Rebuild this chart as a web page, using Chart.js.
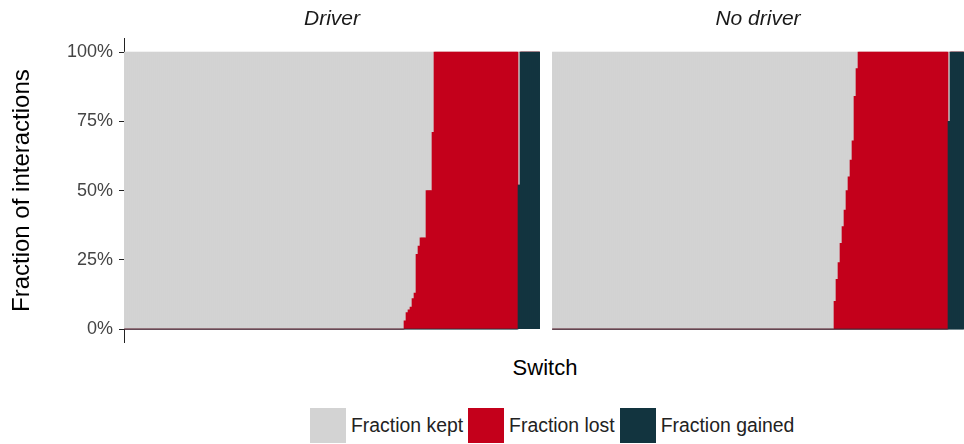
<!DOCTYPE html>
<html>
<head>
<meta charset="utf-8">
<title>Fraction of interactions per switch</title>
<script src="https://cdn.jsdelivr.net/npm/chart.js@4.4.1/dist/chart.umd.min.js"></script>
<style>
  html, body { margin: 0; padding: 0; background: #fff; overflow: hidden; }
  body { width: 964px; height: 444px; position: relative; font-family: 'Liberation Sans', Arial, sans-serif; }
  .panel { position: absolute; top: 0; height: 343px; }
  #driver-wrap { left: 0; width: 545px; }
  #nodriver-wrap { left: 548px; width: 416px; }
  #x-title { position: absolute; left: 0; width: 1090px; top: 355px; line-height: 26px; text-align: center; font-size: 22px; color: #000; }
  #legend { position: absolute; left: 310px; top: 408px; display: flex; align-items: center; font-size: 19.4px; color: #222; }
  .key { display: flex; align-items: center; margin-right: 5px; }
  .swatch { width: 36px; height: 35px; margin-right: 5px; }
</style>
</head>
<body>
<div class="panel" id="driver-wrap"><canvas id="driverChart"></canvas></div>
<div class="panel" id="nodriver-wrap"><canvas id="noDriverChart"></canvas></div>
<div id="x-title">Switch</div>
<div id="legend"></div>

<script>
// One value per switch, switches ordered by how much of their interactions were kept.
const driverKept = [
  1,1,1,1,1,1,1,1,1,1,1,1,1,1,1,1,1,1,1,1,
  1,1,1,1,1,1,1,1,1,1,1,1,1,1,1,1,1,1,1,1,
  1,1,1,1,1,1,1,1,1,1,1,1,1,1,1,1,1,1,1,1,
  1,1,1,1,1,1,1,1,1,1,1,1,1,1,1,1,1,1,1,1,
  1,1,1,1,1,1,1,1,1,1,1,1,1,1,1,1,1,1,1,1,
  1,1,1,1,1,1,1,1,1,1,1,1,1,1,1,1,1,1,1,1,
  1,1,1,1,1,1,1,1,1,1,1,1,1,1,1,1,1,1,1,1,
  0.97,0.94,0.93,0.92,0.89,0.87,0.73,0.7,0.67,0.67,0.67,0.5,0.5,0.5,0.29,
  0,0,0,0,0,0,0,0,0,0,0,0,0,0,0,0,0,0,0,0,
  0,0,0,0,0,0,0,0,0,0,0,0,0,0,0,0,0,0,0,0,
  0,0,
  0.48,
  0,0,0,0,0,0,0,0,0,0
];
const driverLost = [
  0,0,0,0,0,0,0,0,0,0,0,0,0,0,0,0,0,0,0,0,
  0,0,0,0,0,0,0,0,0,0,0,0,0,0,0,0,0,0,0,0,
  0,0,0,0,0,0,0,0,0,0,0,0,0,0,0,0,0,0,0,0,
  0,0,0,0,0,0,0,0,0,0,0,0,0,0,0,0,0,0,0,0,
  0,0,0,0,0,0,0,0,0,0,0,0,0,0,0,0,0,0,0,0,
  0,0,0,0,0,0,0,0,0,0,0,0,0,0,0,0,0,0,0,0,
  0,0,0,0,0,0,0,0,0,0,0,0,0,0,0,0,0,0,0,0,
  0.03,0.06,0.07,0.08,0.11,0.13,0.27,0.3,0.33,0.33,0.33,0.5,0.5,0.5,0.71,
  1,1,1,1,1,1,1,1,1,1,1,1,1,1,1,1,1,1,1,1,
  1,1,1,1,1,1,1,1,1,1,1,1,1,1,1,1,1,1,1,1,
  1,1,
  0,
  0,0,0,0,0,0,0,0,0,0
];
const driverGained = [
  0,0,0,0,0,0,0,0,0,0,0,0,0,0,0,0,0,0,0,0,
  0,0,0,0,0,0,0,0,0,0,0,0,0,0,0,0,0,0,0,0,
  0,0,0,0,0,0,0,0,0,0,0,0,0,0,0,0,0,0,0,0,
  0,0,0,0,0,0,0,0,0,0,0,0,0,0,0,0,0,0,0,0,
  0,0,0,0,0,0,0,0,0,0,0,0,0,0,0,0,0,0,0,0,
  0,0,0,0,0,0,0,0,0,0,0,0,0,0,0,0,0,0,0,0,
  0,0,0,0,0,0,0,0,0,0,0,0,0,0,0,0,0,0,0,0,
  0,0,0,0,0,0,0,0,0,0,0,0,0,0,0,
  0,0,0,0,0,0,0,0,0,0,0,0,0,0,0,0,0,0,0,0,
  0,0,0,0,0,0,0,0,0,0,0,0,0,0,0,0,0,0,0,0,
  0,0,
  0.52,
  1,1,1,1,1,1,1,1,1,1
];

const noDriverKept = [
  1,1,1,1,1,1,1,1,1,1,1,1,1,1,1,1,1,1,1,1,
  1,1,1,1,1,1,1,1,1,1,1,1,1,1,1,1,1,1,1,1,
  1,1,1,1,1,1,1,1,1,1,1,1,1,1,1,1,1,1,1,1,
  1,1,1,1,1,1,1,1,1,1,1,1,1,1,1,1,1,1,1,1,
  1,1,1,1,1,1,1,1,1,1,1,1,1,1,1,1,1,1,1,1,
  1,1,1,1,1,1,1,1,1,1,1,1,1,1,1,1,1,1,1,1,
  1,1,1,1,1,1,1,1,1,1,1,1,1,1,1,1,1,1,1,1,
  1,
  0.9,0.82,0.76,0.69,0.63,0.57,0.5,0.45,0.39,0.32,0.16,0.06,
  0,0,0,0,0,0,0,0,0,0,0,0,0,0,0,0,0,0,0,0,
  0,0,0,0,0,0,0,0,0,0,0,0,0,0,0,0,0,0,0,0,
  0,0,0,0,0,
  0.25,
  0,0,0,0,0,0,0
];
const noDriverLost = [
  0,0,0,0,0,0,0,0,0,0,0,0,0,0,0,0,0,0,0,0,
  0,0,0,0,0,0,0,0,0,0,0,0,0,0,0,0,0,0,0,0,
  0,0,0,0,0,0,0,0,0,0,0,0,0,0,0,0,0,0,0,0,
  0,0,0,0,0,0,0,0,0,0,0,0,0,0,0,0,0,0,0,0,
  0,0,0,0,0,0,0,0,0,0,0,0,0,0,0,0,0,0,0,0,
  0,0,0,0,0,0,0,0,0,0,0,0,0,0,0,0,0,0,0,0,
  0,0,0,0,0,0,0,0,0,0,0,0,0,0,0,0,0,0,0,0,
  0,
  0.1,0.18,0.24,0.31,0.37,0.43,0.5,0.55,0.61,0.68,0.84,0.94,
  1,1,1,1,1,1,1,1,1,1,1,1,1,1,1,1,1,1,1,1,
  1,1,1,1,1,1,1,1,1,1,1,1,1,1,1,1,1,1,1,1,
  1,1,1,1,1,
  0,
  0,0,0,0,0,0,0
];
const noDriverGained = [
  0,0,0,0,0,0,0,0,0,0,0,0,0,0,0,0,0,0,0,0,
  0,0,0,0,0,0,0,0,0,0,0,0,0,0,0,0,0,0,0,0,
  0,0,0,0,0,0,0,0,0,0,0,0,0,0,0,0,0,0,0,0,
  0,0,0,0,0,0,0,0,0,0,0,0,0,0,0,0,0,0,0,0,
  0,0,0,0,0,0,0,0,0,0,0,0,0,0,0,0,0,0,0,0,
  0,0,0,0,0,0,0,0,0,0,0,0,0,0,0,0,0,0,0,0,
  0,0,0,0,0,0,0,0,0,0,0,0,0,0,0,0,0,0,0,0,
  0,
  0,0,0,0,0,0,0,0,0,0,0,0,
  0,0,0,0,0,0,0,0,0,0,0,0,0,0,0,0,0,0,0,0,
  0,0,0,0,0,0,0,0,0,0,0,0,0,0,0,0,0,0,0,0,
  0,0,0,0,0,
  0.75,
  1,1,1,1,1,1,1
];

const yTicks = [0, 0.25, 0.5, 0.75, 1];

const KEPT_COLOR = '#d3d3d3';
const LOST_COLOR = '#c4001b';
const GAINED_COLOR = '#12343f';
const FONT = "'Liberation Sans', Arial, sans-serif";

function panelChart(canvasId, title, kept, lost, gained, withAxis) {
  const yScale = {
    stacked: true,
    display: withAxis,
    min: -0.05,
    max: 1.05,
    afterBuildTicks: (scale) => { scale.ticks = yTicks.map(v => ({ value: v })); },
    border: { display: true, color: '#222', width: 1 },
    grid: { drawOnChartArea: false, drawTicks: true, tickLength: 5, tickWidth: 1, color: '#222' },
    ticks: {
      padding: 6,
      color: '#444',
      font: { family: FONT, size: 18 },
      callback: (v) => Math.round(v * 100) + '%'
    },
    title: {
      display: true,
      text: 'Fraction of interactions',
      color: '#000',
      font: { family: FONT, size: 24, lineHeight: 1.2 },
      padding: { top: 8, bottom: 0 }
    }
  };
  if (withAxis) {
    // fixed axis width; ticks sit well inside the range so no label padding is needed
    yScale.afterFit = (scale) => {
      scale.width = 124;
      scale.paddingTop = 0;
      scale.paddingBottom = 0;
    };
  }

  return new Chart(document.getElementById(canvasId), {
    type: 'bar',
    data: {
      labels: kept.map((_, i) => i + 1),
      // stacked bottom-up: gained, lost, then kept on top
      datasets: [
        { label: 'Fraction gained', data: gained, backgroundColor: GAINED_COLOR },
        { label: 'Fraction lost', data: lost, backgroundColor: LOST_COLOR },
        { label: 'Fraction kept', data: kept, backgroundColor: KEPT_COLOR }
      ]
    },
    options: {
      responsive: true,
      maintainAspectRatio: false,
      animation: false,
      layout: { padding: withAxis ? { right: 5 } : { left: 4 } },
      datasets: { bar: { barPercentage: 1, categoryPercentage: 1, borderWidth: 0 } },
      plugins: {
        legend: { display: false },
        tooltip: { enabled: false },
        title: {
          display: true,
          text: title,
          fullSize: false,
          color: '#1a1a1a',
          font: { family: FONT, size: 21, style: 'italic', weight: 'normal', lineHeight: 1.2 },
          padding: { top: 7, bottom: 6 }
        }
      },
      scales: {
        x: { stacked: true, display: false },
        y: yScale
      }
    }
  });
}

const driverChart = panelChart('driverChart', 'Driver', driverKept, driverLost, driverGained, true);
panelChart('noDriverChart', 'No driver', noDriverKept, noDriverLost, noDriverGained, false);

// legend lists the series top-down: kept, lost, gained
const legendEl = document.getElementById('legend');
driverChart.data.datasets.slice().reverse().forEach(ds => {
  const key = document.createElement('div');
  key.className = 'key';
  const sw = document.createElement('div');
  sw.className = 'swatch';
  sw.style.background = ds.backgroundColor;
  const label = document.createElement('span');
  label.textContent = ds.label;
  key.appendChild(sw);
  key.appendChild(label);
  legendEl.appendChild(key);
});
</script>
</body>
</html>
